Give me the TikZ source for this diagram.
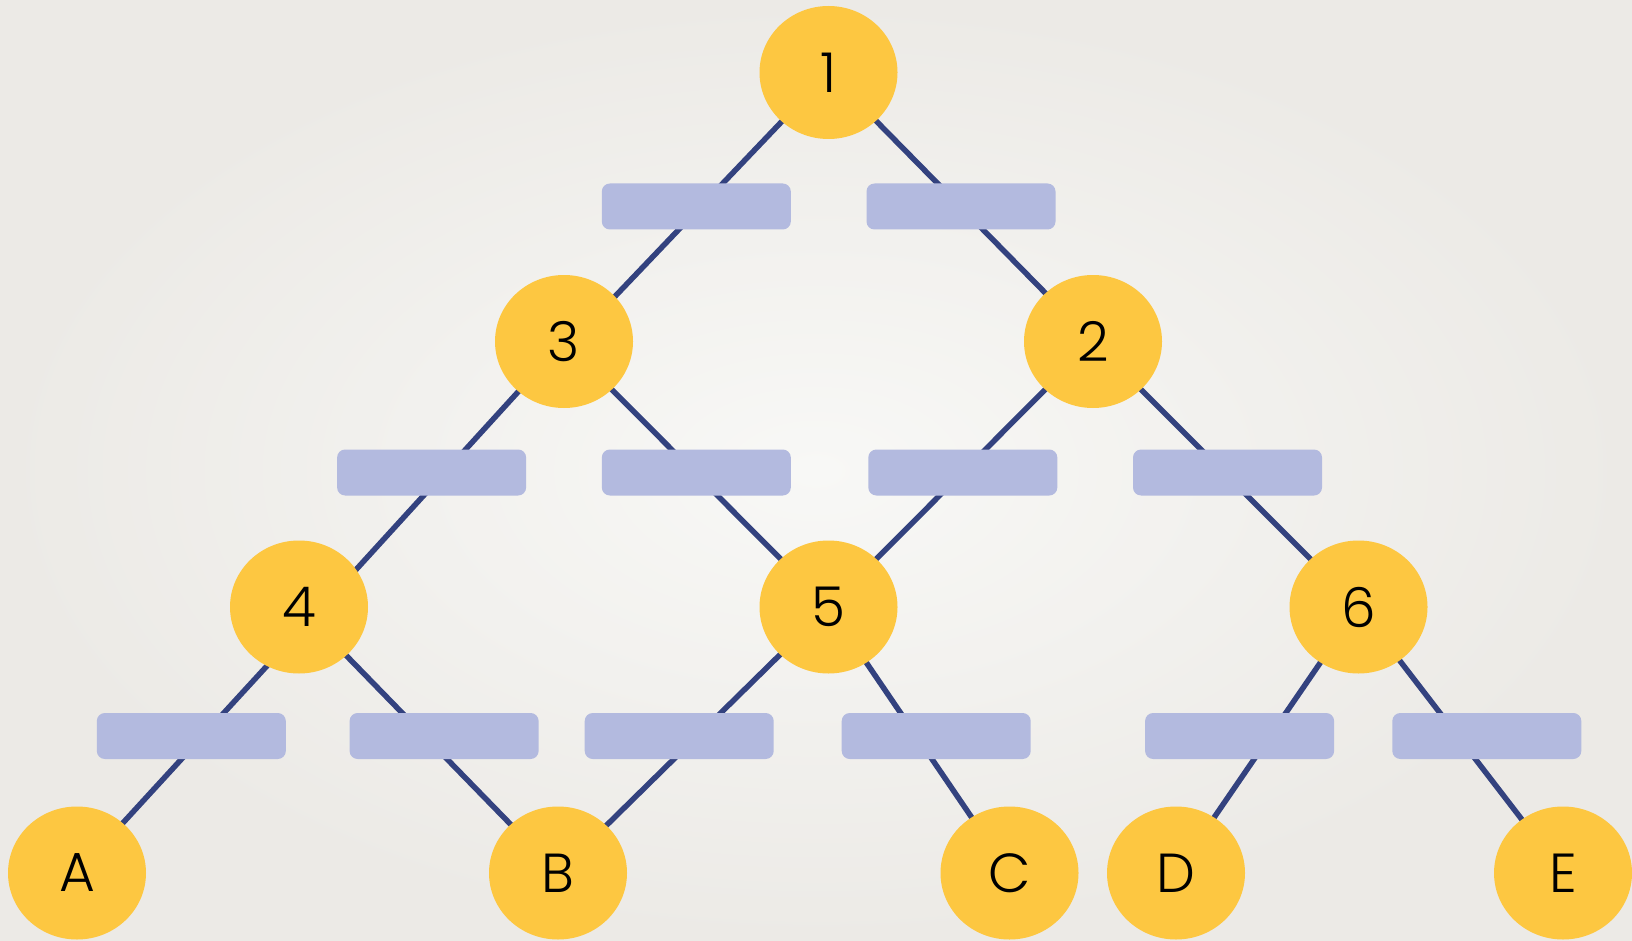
\documentclass[tikz,border=0pt]{standalone}
\usepackage{fontspec}
\setmainfont{Poppins}[UprightFont={* Light}]
\usetikzlibrary{shapes.geometric,calc}
\definecolor{bgc}{HTML}{F2F1EE}
\definecolor{bgin}{HTML}{F8F8F6}
\definecolor{bgout}{HTML}{ECEAE6}
\definecolor{gold}{HTML}{FDC741}
\definecolor{slotc}{HTML}{B3BADF}
\definecolor{navy}{HTML}{33427F}
\pgfdeclarelayer{back}
\pgfdeclarelayer{wires}
\pgfsetlayers{back,wires,main}
\begin{document}
\begin{tikzpicture}[x=1pt,y=-1pt,
  ball/.style={ellipse,fill=gold,minimum width=138pt,minimum height=133pt,inner sep=0pt,
    font=\fontsize{55}{60}\selectfont},
  slot/.style={rectangle,rounded corners=8pt,fill=slotc,minimum width=189pt,minimum height=46pt,inner sep=0pt},
  wire/.style={draw=navy,line width=5.5pt}]
\begin{pgfonlayer}{back}
\shade[inner color=bgin,outer color=bgout] (0,0) rectangle (1632,941);
\end{pgfonlayer}
\useasboundingbox (0,0) rectangle (1632,941);
% circles
\node[ball] (n1) at (828.5,72.5) {1};
\node[ball] (n3) at (564,341.5) {3};
\node[ball] (n2) at (1093,341.5) {2};
\node[ball] (n4) at (299,607) {4};
\node[ball] (n5) at (828.5,607) {5};
\node[ball] (n6) at (1358.5,607) {6};
\node[ball] (nA) at (77,873) {A};
\node[ball] (nB) at (558,873) {B};
\node[ball] (nC) at (1009.5,873) {C};
\node[ball] (nD) at (1176,873) {D};
\node[ball] (nE) at (1563,873) {E};
% slots
\node[slot] (s1a) at (696.3,206.5) {};
\node[slot] (s1b) at (961,206.5) {};
\node[slot] (s2a) at (431.6,472.5) {};
\node[slot] (s2b) at (696.3,472.5) {};
\node[slot] (s2c) at (962.8,472.5) {};
\node[slot] (s2d) at (1227.5,472.5) {};
\node[slot] (s3a) at (191.3,736) {};
\node[slot] (s3b) at (444.1,736) {};
\node[slot] (s3c) at (679.2,736) {};
\node[slot] (s3d) at (936.2,736) {};
\node[slot] (s3e) at (1239.6,736) {};
\node[slot] (s3f) at (1486.8,736) {};
% connectors
\begin{pgfonlayer}{wires}
\draw[wire] (n1.center) -- ($(n3.center)+(8,0)$);
\draw[wire] (n1.center) -- (n2.center);
\draw[wire] (n3.center) -- ($(n4.center)+(23,0)$);
\draw[wire] (n3.center) -- (n5.center);
\draw[wire] (n2.center) -- (n5.center);
\draw[wire] (n2.center) -- (n6.center);
\draw[wire] ($(n4.center)+(22,0)$) -- (nA.center);
\draw[wire] (n4.center) -- (nB.center);
\draw[wire] (n5.center) -- (nB.center);
\draw[wire] (n5.center) -- (nC.center);
\draw[wire] (n6.center) -- (nD.center);
\draw[wire] (n6.center) -- (nE.center);
\end{pgfonlayer}
\end{tikzpicture}
\end{document}
